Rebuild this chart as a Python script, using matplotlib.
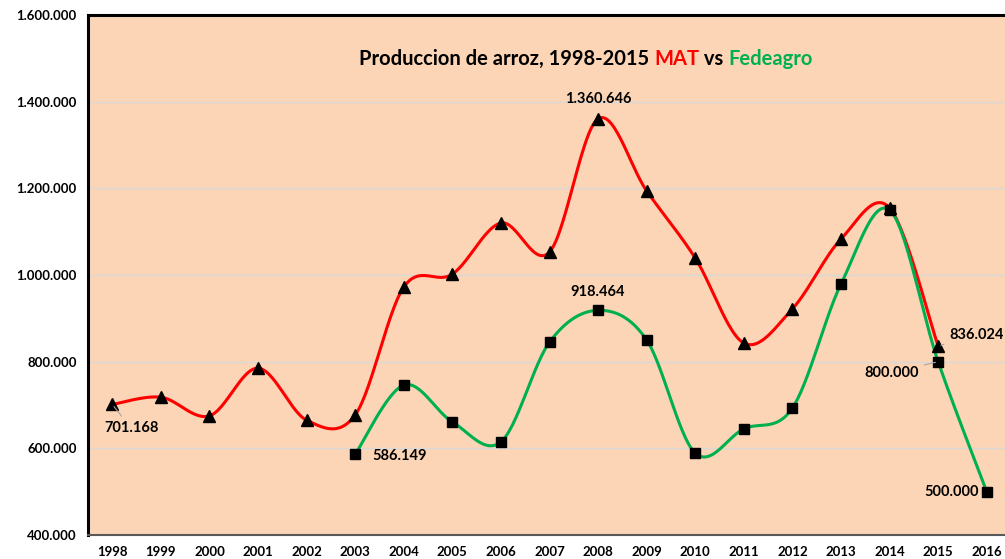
import matplotlib.pyplot as plt
import numpy as np
from matplotlib.ticker import FuncFormatter

plt.rcParams['font.family'] = ['Lato', 'DejaVu Sans']

# años y series (Excel: MAT vs Fedeagro)
years = [str(y) for y in range(1998, 2017)]
mat = [701168, 718000, 675000, 785000, 665000, 677000, 972000, 1002000, 1120000,
       1053000, 1360646, 1194000, 1039000, 843000, 922000, 1083000, 1155000, 836024]
fed_years = list(range(2003, 2017))
fedeagro = [586149, 746000, 661000, 615000, 845000, 918464, 850000, 589000,
            645000, 693000, 979000, 1150000, 800000, 500000]

RED = "#FF0000"
GREEN = "#00B050"
BG = "#FBD5B5"


def smooth(x, y, n=30):
    """Curva suavizada tipo Excel (Bezier Catmull-Rom)."""
    x = np.asarray(x, float)
    y = np.asarray(y, float)
    px, py = [], []
    for i in range(len(x) - 1):
        x0, y0 = (x[i - 1], y[i - 1]) if i > 0 else (x[i], y[i])
        x3, y3 = (x[i + 2], y[i + 2]) if i + 2 < len(x) else (x[i + 1], y[i + 1])
        c1x = x[i] + (x[i + 1] - x0) / 6
        c1y = y[i] + (y[i + 1] - y0) / 6
        c2x = x[i + 1] - (x3 - x[i]) / 6
        c2y = y[i + 1] - (y3 - y[i]) / 6
        t = np.linspace(0, 1, n)
        px.extend((1 - t) ** 3 * x[i] + 3 * (1 - t) ** 2 * t * c1x + 3 * (1 - t) * t ** 2 * c2x + t ** 3 * x[i + 1])
        py.extend((1 - t) ** 3 * y[i] + 3 * (1 - t) ** 2 * t * c1y + 3 * (1 - t) * t ** 2 * c2y + t ** 3 * y[i + 1])
    return px, py


fig = plt.figure(figsize=(10.05, 5.59), dpi=100)
ax = fig.add_axes([88 / 1005, 1 - 535 / 559, (1011 - 88) / 1005, 520 / 559])
ax.set_facecolor(BG)

xm = np.arange(len(mat))
xf = np.array(fed_years) - 1998

sx, sy = smooth(xm, mat)
ax.plot(sx, sy, color=RED, lw=2.2, zorder=3)
ax.plot(xm, mat, ls="none", marker="^", ms=8, color="black", zorder=4)

sx, sy = smooth(xf, fedeagro)
ax.plot(sx, sy, color=GREEN, lw=2.2, zorder=3)
ax.plot(xf, fedeagro, ls="none", marker="s", ms=7, color="black", zorder=4)

ax.set_xlim(-0.5, len(years) - 0.5)
ax.set_ylim(400000, 1600000)
ax.set_yticks(np.arange(400000, 1600001, 200000))
ax.yaxis.set_major_formatter(FuncFormatter(lambda v, p: f"{int(v):,}".replace(",", ".")))
ax.set_xticks(np.arange(len(years)))
ax.set_xticklabels(years)
ax.tick_params(length=0, labelsize=9.5, pad=8)
for lab in ax.get_xticklabels() + ax.get_yticklabels():
    lab.set_fontweight("bold")
ax.grid(axis="y", color="#D9D9D9", lw=1)
ax.set_axisbelow(True)

for s in ["left", "top"]:
    ax.spines[s].set_linewidth(2.2)
    ax.spines[s].set_color("black")
ax.spines["bottom"].set_linewidth(1.5)
ax.spines["bottom"].set_color("#595959")
ax.spines["right"].set_visible(False)


def fmt(v):
    return f"{int(v):,}".replace(",", ".")


lab_kw = dict(fontsize=10.5, fontweight="bold", textcoords="offset points", zorder=5)
leader = dict(arrowstyle="-", color="#A6A6A6", lw=0.8)
ax.annotate(fmt(mat[0]), (xm[0], mat[0]), xytext=(-6, -22), ha="left", va="bottom",
            arrowprops=leader, **lab_kw)
ax.annotate(fmt(mat[10]), (xm[10], mat[10]), xytext=(0, 9), ha="center", va="bottom", **lab_kw)
ax.annotate(fmt(mat[17]), (xm[17], mat[17]), xytext=(8, 8), ha="left", va="center",
            arrowprops=leader, **lab_kw)
ax.annotate(fmt(fedeagro[0]), (xf[0], fedeagro[0]), xytext=(12, -1), ha="left", va="center", **lab_kw)
ax.annotate(fmt(fedeagro[5]), (xf[5], fedeagro[5]), xytext=(0, 8), ha="center", va="bottom", **lab_kw)
ax.annotate(fmt(fedeagro[12]), (xf[12], fedeagro[12]), xytext=(-14, -8), ha="right", va="center",
            arrowprops=leader, **lab_kw)
ax.annotate(fmt(fedeagro[13]), (xf[13], fedeagro[13]), xytext=(-6, 0), ha="right", va="center", **lab_kw)

# título con colores
parts = [("Produccion de arroz, 1998-2015 ", "black"), ("MAT", RED), (" vs ", "black"), ("Fedeagro", GREEN)]
fig.canvas.draw()
r = fig.canvas.get_renderer()
texts = []
for s, c in parts:
    t = fig.text(0, 1 - 59 / 559, s, color=c, fontsize=14.5, fontweight="bold", va="center", ha="left")
    texts.append(t)
widths = [t.get_window_extent(r).width for t in texts]
x0 = 586 - sum(widths) / 2
for t, w in zip(texts, widths):
    t.set_x(x0 / 1005)
    x0 += w

fig.savefig("out.png", dpi=100)
